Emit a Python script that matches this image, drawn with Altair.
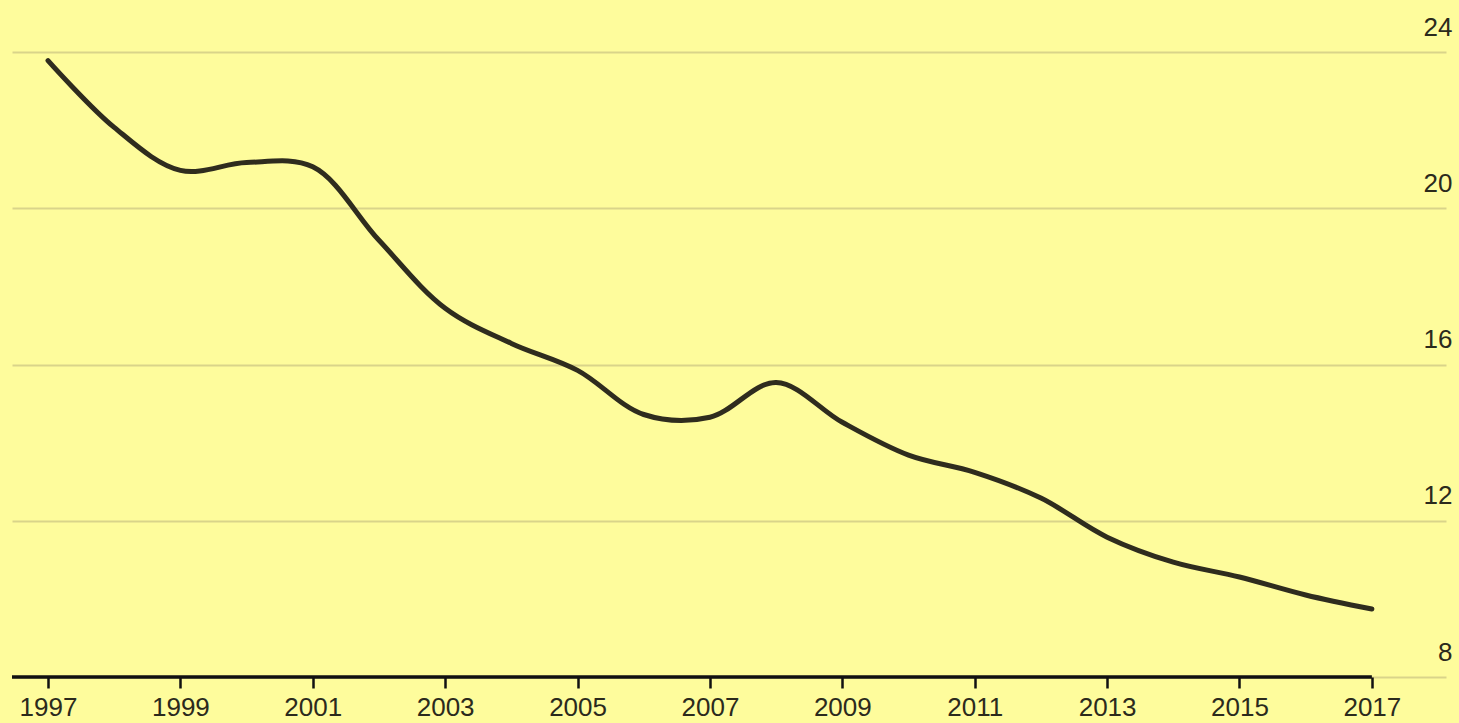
import altair as alt
import pandas as pd

years = list(range(1997, 2018))
values = [23.78, 22.07, 20.97, 21.17, 21.06, 19.18, 17.44, 16.54, 15.85, 14.72,
          14.65, 15.54, 14.52, 13.68, 13.24, 12.58, 11.58, 10.94, 10.56, 10.10, 9.74]
x_ticks = list(range(1997, 2018, 2))
y_ticks = [8, 12, 16, 20, 24]

df = pd.DataFrame({"year": years, "value": values})

X_MIN, X_MAX = 1996.456, 2018.12
FONT = "Liberation Sans"
BG = "#FEFC9C"
INK = "#2b2a1c"

xscale = alt.Scale(domain=[X_MIN, X_MAX], nice=False, zero=False)
yscale = alt.Scale(domain=[8, 24], nice=False, zero=False)

base_line = alt.Chart(df).mark_line(
    color="#2f2c1e", strokeWidth=5, interpolate="catmull-rom", strokeCap="round"
).encode(
    x=alt.X("year:Q", scale=xscale, axis=alt.Axis(
        values=x_ticks, format="d", title=None, grid=False, domain=False,
        ticks=True, tickSize=11, tickWidth=2.5, tickColor="#111111",
        labelFont=FONT, labelFontSize=26, labelColor=INK, labelPadding=6,
        labelFlush=False, labelOverlap=False)),
    y=alt.Y("value:Q", scale=yscale, axis=alt.Axis(
        values=y_ticks, orient="right", title=None, grid=True,
        gridColor="#D9D48A", gridWidth=2, domain=False, ticks=False,
        labelFont=FONT, labelFontSize=26, labelColor=INK, labelAlign="right",
        labelBaseline="alphabetic", labelPadding=6, labelOffset=-17)),
)

rule_df = pd.DataFrame({"x0": [X_MIN], "x1": [2017], "y": [8]})
rule = alt.Chart(rule_df).mark_rule(color="#111111", strokeWidth=3.5).encode(
    x=alt.X("x0:Q", scale=xscale),
    x2="x1:Q",
    y=alt.Y("y:Q", scale=yscale),
)

chart = alt.layer(base_line, rule).properties(
    width=1434, height=625,
    autosize=alt.AutoSizeParams(type="none"),
    padding={"left": 12, "top": 52, "right": 13, "bottom": 46},
    background=BG,
).configure_view(stroke=None)

chart.save("out.html", embed_options={"renderer": "svg", "actions": False})
